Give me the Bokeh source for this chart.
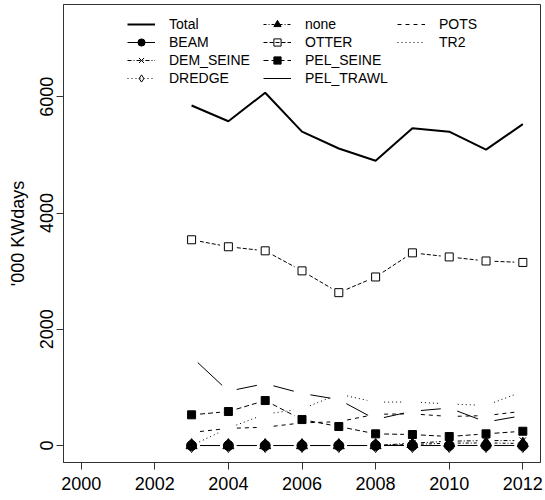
import math
from bokeh.plotting import figure
from bokeh.models import Range1d, FixedTicker, Legend, LegendItem, ColumnDataSource
from bokeh.embed import file_html
from bokeh.resources import INLINE

# ---------------- data ----------------
years = [2003, 2004, 2005, 2006, 2007, 2008, 2009, 2010, 2011, 2012]
total = [5850, 5580, 6070, 5400, 5110, 4900, 5460, 5400, 5090, 5530]
beam = [0, 0, 0, 0, 0, 0, 0, 0, 0, 0]
dem_seine = [0, 0, 0, 0, 0, 0, 40, 75, 85, 85]
dredge = [0, 0, 0, 0, 0, 0, 0, 0, 0, 0]
none_gear = [0, 0, 0, 0, 0, 0, 20, 40, 45, 35]
otter = [3540, 3420, 3350, 3005, 2630, 2900, 3315, 3245, 3175, 3150]
pel_seine = [528, 585, 774, 447, 327, 201, 189, 155, 201, 246]
pel_trawl = [1526, 935, 1065, 897, 790, 450, 590, 645, 405, 515]
pots = [225, 295, 315, 390, 410, 538, 545, 500, 515, 590]
tr2 = [0, 300, 540, 630, 885, 745, 750, 715, 690, 930]

x_ticks = [2000, 2002, 2004, 2006, 2008, 2010, 2012]
y_ticks = [0, 2000, 4000, 6000]
y_label = "'000 KWdays"

# ---------------- figure ----------------
X0, X1 = 1999.52, 2012.48
Y0, Y1 = -292, 7588
W, H = 545, 500
ML, MR, MT, MB = 63, 5, 4, 38
FONT = "Liberation Sans"

p = figure(width=W, height=H, x_range=Range1d(X0, X1), y_range=Range1d(Y0, Y1),
           output_backend="svg", toolbar_location=None,
           min_border_left=ML, min_border_right=MR, min_border_top=MT, min_border_bottom=MB)
p.xgrid.grid_line_color = None
p.ygrid.grid_line_color = None
p.outline_line_color = "#333333"
p.outline_line_width = 1
p.background_fill_color = "white"
p.border_fill_color = "white"

p.xaxis.ticker = FixedTicker(ticks=x_ticks)
p.yaxis.ticker = FixedTicker(ticks=y_ticks)
for ax in (p.xaxis[0], p.yaxis[0]):
    ax.axis_line_color = "#333333"
    ax.major_tick_line_color = "#333333"
    ax.major_tick_out = 7
    ax.major_tick_in = 0
    ax.minor_tick_line_color = None
    ax.major_label_text_font = FONT
    ax.major_label_text_font_size = "18px"
    ax.major_label_text_color = "black"
p.xaxis.major_label_standoff = 7
p.yaxis.major_label_orientation = "vertical"
p.yaxis.major_label_standoff = 3
p.yaxis.axis_label = y_label
p.yaxis.axis_label_text_font = FONT
p.yaxis.axis_label_text_font_size = "18px"
p.yaxis.axis_label_text_font_style = "normal"
p.yaxis.axis_label_text_color = "black"
p.yaxis.axis_label_standoff = 10

# screen scale (px per data unit) used to leave R-style gaps around points
sx = (W - ML - MR) / (X1 - X0)
sy = (H - MT - MB) / (Y1 - Y0)
GAP = 8.5


def gapped(xs, ys):
    d = dict(x0=[], y0=[], x1=[], y1=[])
    for i in range(len(xs) - 1):
        ddx = xs[i + 1] - xs[i]
        ddy = ys[i + 1] - ys[i]
        L = math.hypot(ddx * sx, ddy * sy)
        if L <= 2 * GAP:
            continue
        f = GAP / L
        d["x0"].append(xs[i] + ddx * f)
        d["y0"].append(ys[i] + ddy * f)
        d["x1"].append(xs[i + 1] - ddx * f)
        d["y1"].append(ys[i + 1] - ddy * f)
    return ColumnDataSource(d)


items = {}

# Total: continuous thick line
r_tot = p.line(years, total, line_color="black", line_width=2)
items["Total"] = [r_tot]

series = [
    # name, values, dash, marker, size, fill
    ("BEAM", beam, "solid", "circle", 10, "black"),
    ("DEM_SEINE", dem_seine, "4 2 1 2", "x", 9, None),
    ("DREDGE", dredge, "1 3", "diamond", 14, None),
    ("none", none_gear, "3 2 1 2", "triangle", 11, "black"),
    ("OTTER", otter, "4 2", "square", 8, None),
    ("PEL_SEINE", pel_seine, "5 3", "square", 8, "black"),
    ("PEL_TRAWL", pel_trawl, "solid", None, 0, None),
    ("POTS", pots, "4 4", None, 0, None),
    ("TR2", tr2, "1 3", None, 0, None),
]

for name, vals, dash, marker, size, fill in series:
    src = gapped(years, vals)
    rs = [p.segment(x0="x0", y0="y0", x1="x1", y1="y1", source=src,
                    line_color="black", line_width=1, line_dash=dash)]
    if marker is not None:
        rs.append(p.scatter(years, vals, marker=marker, size=size,
                            line_color="black", line_width=1,
                            fill_color=fill if fill else "white",
                            fill_alpha=1 if fill else 0))
    items[name] = rs

columns = [
    (["Total", "BEAM", "DEM_SEINE", "DREDGE"], 64),
    (["none", "OTTER", "PEL_SEINE", "PEL_TRAWL"], 200),
    (["POTS", "TR2"], 334),
]
ROW = 18
LEG_TOP = 24 - ROW // 2 - MT  # distance from frame top
frame_h = H - MT - MB
for names, xoff in columns:
    leg_h = ROW * len(names)
    leg = Legend(items=[LegendItem(label=n, renderers=items[n]) for n in names],
                 location=(xoff, frame_h - LEG_TOP - leg_h))
    leg.background_fill_alpha = 0
    leg.border_line_alpha = 0
    leg.padding = 0
    leg.margin = 0
    leg.spacing = 0
    leg.glyph_width = 28
    leg.glyph_height = ROW
    leg.label_height = ROW
    leg.label_standoff = 14
    leg.label_text_font = FONT
    leg.label_text_font_size = "14px"
    leg.label_text_color = "black"
    leg.label_text_baseline = "middle"
    p.add_layout(leg)

open("out.html", "w").write(file_html(p, INLINE))
